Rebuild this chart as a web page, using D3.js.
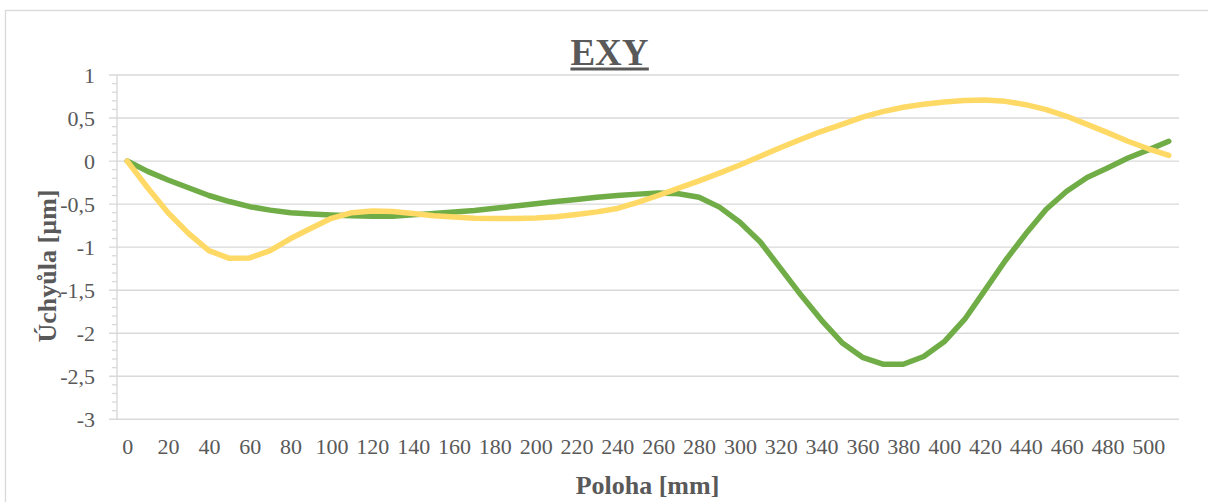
<!DOCTYPE html>
<html>
<head>
<meta charset="utf-8">
<script src="https://cdn.jsdelivr.net/npm/d3@7"></script>
<style>
  html, body { margin: 0; padding: 0; background: #fff; }
  svg { display: block; }
  text { font-family: "Liberation Serif", "Times New Roman", serif; fill: #595959; }
</style>
</head>
<body>
<svg id="chart" width="1208" height="502"></svg>
<script>
// Position along the part [mm]
const positions = [0, 10, 20, 30, 40, 50, 60, 70, 80, 90,
  100, 110, 120, 130, 140, 150, 160, 170, 180, 190,
  200, 210, 220, 230, 240, 250, 260, 270, 280, 290,
  300, 310, 320, 330, 340, 350, 360, 370, 380, 390,
  400, 410, 420, 430, 440, 450, 460, 470, 480, 490,
  500, 510];

// Deviation [µm], green series
const deviationGreen = [0, -0.12, -0.22, -0.31, -0.40, -0.47, -0.53, -0.57, -0.60, -0.615,
  -0.627, -0.635, -0.64, -0.64, -0.625, -0.61, -0.593, -0.574, -0.548, -0.523,
  -0.497, -0.47, -0.446, -0.42, -0.40, -0.384, -0.372, -0.38, -0.42, -0.535,
  -0.71, -0.94, -1.25, -1.56, -1.85, -2.11, -2.28, -2.36, -2.36, -2.27,
  -2.10, -1.84, -1.50, -1.155, -0.845, -0.56, -0.35, -0.19, -0.08, 0.035,
  0.13, 0.23];

// Deviation [µm], yellow series
const deviationYellow = [0, -0.31, -0.60, -0.84, -1.04, -1.13, -1.125, -1.04, -0.90, -0.78,
  -0.665, -0.60, -0.58, -0.585, -0.61, -0.636, -0.65, -0.663, -0.667, -0.667,
  -0.66, -0.647, -0.62, -0.59, -0.55, -0.48, -0.40, -0.315, -0.23, -0.14,
  -0.045, 0.056, 0.157, 0.253, 0.346, 0.427, 0.51, 0.574, 0.625, 0.66,
  0.687, 0.705, 0.71, 0.694, 0.655, 0.597, 0.52, 0.426, 0.33, 0.23,
  0.143, 0.066];

const yTicks = [1, 0.5, 0, -0.5, -1, -1.5, -2, -2.5, -3];
const xTickLabels = positions.filter((d, i) => i % 2 === 0);

const title = "EXY";
const xTitle = "Poloha [mm]";
const yTitle = "Úchyůla [µm]";

const svg = d3.select("#chart");
const W = 1208, H = 502;
const plot = { left: 117, right: 1179, top: 75, bottom: 419.3 };

svg.append("rect").attr("width", W).attr("height", H).attr("fill", "#fff");
// chart frame
svg.append("rect")
  .attr("x", 5.5).attr("y", 10.5)
  .attr("width", W).attr("height", H)
  .attr("fill", "none").attr("stroke", "#d9d9d9").attr("stroke-width", 1.3);

const x = d3.scalePoint().domain(positions).range([plot.left, plot.right]).padding(0.5);
const y = d3.scaleLinear().domain([-3, 1]).range([plot.bottom, plot.top]);

const fmt = d => String(d).replace(".", ",");

// horizontal gridlines (extending left as major ticks)
svg.append("g").selectAll("line").data(yTicks).join("line")
  .attr("x1", plot.left - 8).attr("x2", plot.right)
  .attr("y1", d => y(d)).attr("y2", d => y(d))
  .attr("stroke", "#d9d9d9").attr("stroke-width", 1.4);

// minor ticks on the value axis
const minor = d3.range(-30, 11).map(k => k / 10).filter(v => Math.abs(v * 2 - Math.round(v * 2)) > 1e-6);
svg.append("g").selectAll("line").data(minor).join("line")
  .attr("x1", plot.left - 5).attr("x2", plot.left)
  .attr("y1", d => y(d)).attr("y2", d => y(d))
  .attr("stroke", "#d9d9d9").attr("stroke-width", 1.3);

// value axis line
svg.append("line")
  .attr("x1", plot.left).attr("x2", plot.left)
  .attr("y1", plot.top).attr("y2", plot.bottom)
  .attr("stroke", "#d9d9d9").attr("stroke-width", 1.4);

// value axis labels
const yAxis = d3.axisLeft(y).tickValues(yTicks).tickFormat(fmt).tickSize(0).tickPadding(0);
const gy = svg.append("g").attr("transform", `translate(95,0)`).call(yAxis);
gy.select(".domain").remove();
gy.selectAll("text")
  .attr("x", 0).attr("dy", "0.33em")
  .style("font-family", '"Liberation Serif", serif')
  .style("font-size", "22px").attr("fill", "#595959");

// category axis labels
const xAxis = d3.axisBottom(x).tickValues(xTickLabels).tickSize(0).tickPadding(0);
const gx = svg.append("g").attr("transform", `translate(0,454)`).call(xAxis);
gx.select(".domain").remove();
gx.selectAll("text")
  .attr("y", 0).attr("dy", 0)
  .style("font-family", '"Liberation Serif", serif')
  .style("font-size", "22px").attr("fill", "#595959");

// series lines
const line = d3.line().x((d, i) => x(positions[i])).y(d => y(d));
const series = [
  { values: deviationGreen, color: "#70AD47" },
  { values: deviationYellow, color: "#FFD966" }
];
svg.append("g").selectAll("path").data(series).join("path")
  .attr("d", s => line(s.values))
  .attr("fill", "none")
  .attr("stroke", s => s.color)
  .attr("stroke-width", 5.5)
  .attr("stroke-linejoin", "round")
  .attr("stroke-linecap", "round");

// chart title
const t = svg.append("text")
  .attr("x", 609.5).attr("y", 65)
  .attr("text-anchor", "middle")
  .style("font-size", "37px").style("font-weight", "bold")
  .text(title);
const tb = t.node().getBBox();
svg.append("rect")
  .attr("x", tb.x).attr("y", 67.5)
  .attr("width", tb.width).attr("height", 3)
  .attr("fill", "#595959");

// axis titles
svg.append("text")
  .attr("x", 647.5).attr("y", 494)
  .attr("text-anchor", "middle")
  .style("font-size", "26px").style("font-weight", "bold")
  .text(xTitle);

svg.append("text")
  .attr("transform", "translate(55.5,266) rotate(-90)")
  .attr("text-anchor", "middle")
  .style("font-size", "26px").style("font-weight", "bold")
  .text(yTitle);
</script>
</body>
</html>
